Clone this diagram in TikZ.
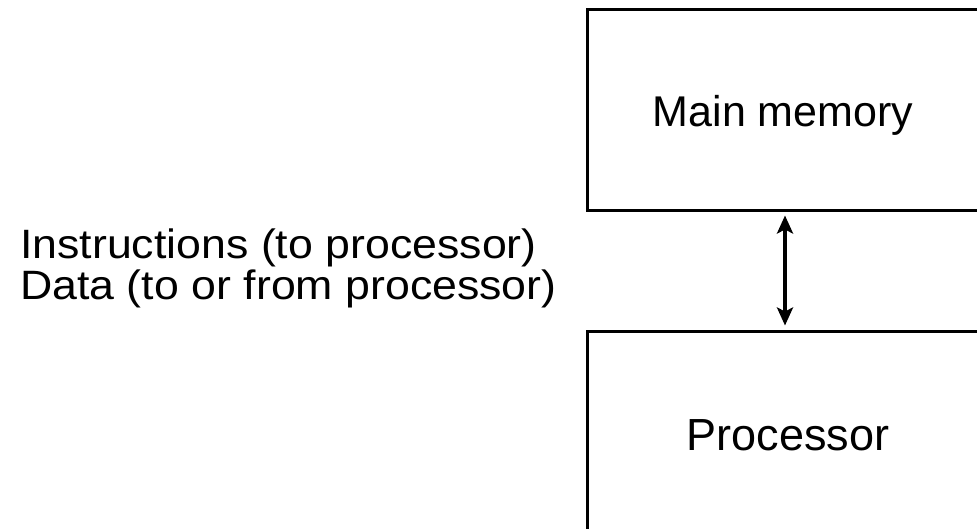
\documentclass[tikz,border=0pt]{standalone}
\usepackage{fontspec}
\setmainfont{Liberation Sans}
\usetikzlibrary{arrows.meta,calc}
\begin{document}
\begin{tikzpicture}[x=1pt,y=-1pt,
  box/.style={draw,line width=3pt,rectangle,minimum width=405pt,anchor=north west,inner sep=0pt},
  lbl/.style={anchor=base,inner sep=0pt},
  arr/.style={line width=3.5pt,shorten <=3pt,shorten >=4pt,{Stealth[length=18pt,width=16pt,inset=4pt]}-{Stealth[length=18pt,width=16pt,inset=4pt]}}]
\useasboundingbox (0,0) rectangle (977,529);
\node[box,minimum height=201pt] (mem) at (585.5,8.5) {};
\node[box,minimum height=220pt] (proc) at (585.5,329.5) {};
\node[lbl,font=\fontsize{43}{40}\selectfont] (memt) at (783,127) {Main memory};
\node[lbl,font=\fontsize{45}{40}\selectfont] (proct) at (788,450) {Processor};
\node[anchor=base west,inner sep=0pt,font=\fontsize{41}{39}\selectfont] (info) at (20,259) {\scalebox{1.09}[1]{\begin{tabular}[t]{@{}l@{}}Instructions (to processor)\\[-1pt]Data (to or from processor)\end{tabular}}};
\coordinate (a) at (785,0);
\draw[arr] (mem.south -| a) -- (proc.north -| a);
\end{tikzpicture}
\end{document}
